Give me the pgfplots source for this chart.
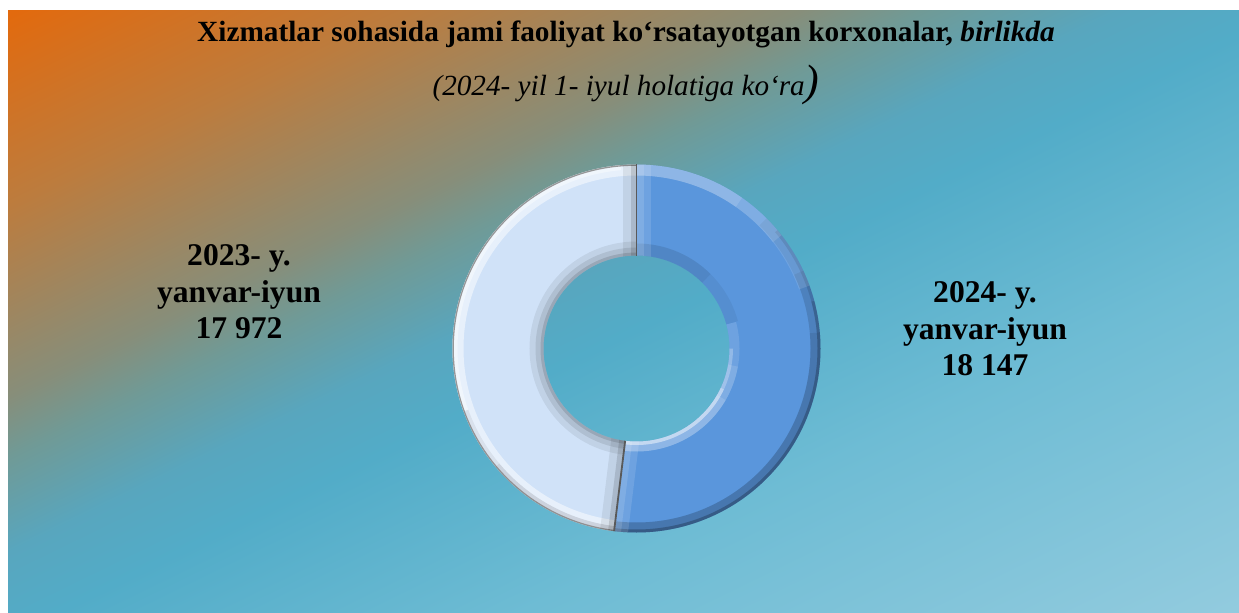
\documentclass[border=0pt]{standalone}
\usepackage{pgfplots}
\pgfplotsset{compat=1.18}
\usepackage{pgfplotstable}
\usepackage{fontspec}
\setmainfont{Liberation Serif}

\definecolor{bgA}{RGB}{226,106,14}
\definecolor{bgB}{RGB}{188,124,62}
\definecolor{bgC}{RGB}{135,142,122}
\definecolor{bgD}{RGB}{112,154,150}
\definecolor{bgE}{RGB}{88,166,190}
\definecolor{bgF}{RGB}{82,172,200}
\definecolor{bgG}{RGB}{110,188,212}
\definecolor{bgH}{RGB}{146,203,222}
\definecolor{sliceDark}{RGB}{90,150,220}
\definecolor{sliceLight}{RGB}{208,226,248}

\pgfdeclarehorizontalshading{bgshade}{100bp}{color(0bp)=(bgA); color(28.23bp)=(bgA); color(35.2bp)=(bgB); color(42.17bp)=(bgC); color(44.34bp)=(bgD); color(47.83bp)=(bgE); color(50.88bp)=(bgF); color(59.15bp)=(bgG); color(71.77bp)=(bgH); color(100bp)=(bgH)}

% value: number of enterprises; angle: slice angle as drawn (degrees)
\pgfplotstableread{
period value angle
2024 18147 187
2023 17972 173
}\donutdata
\pgfplotstablegetelem{0}{angle}\of\donutdata \edef\angA{\pgfplotsretval}
\pgfmathsetmacro{\endA}{90-\angA}
\pgfmathsetmacro{\endL}{\endA+360}

\begin{document}
\begin{tikzpicture}
\begin{axis}[at={(0,0)},anchor=south west,x=0.5pt,y=0.5pt,
  xmin=0,xmax=1239,ymin=0,ymax=612,hide axis,clip=false]
\begin{scope}
\clip (axis cs:8,0) rectangle (axis cs:1239,601);
\shade[shading=bgshade,shading angle=-64] (axis cs:3.5,-319.5) rectangle (axis cs:1243.5,920.5);
\end{scope}
\coordinate (c) at (axis cs:636.5,263.5);
% light slice (2023)
\begin{scope}
\clip ([shift={(90:92pt)}]c) arc[start angle=90,end angle=\endL,radius=92pt]
  -- ([shift={(\endL:46.5pt)}]c) arc[start angle=\endL,end angle=90,radius=46.5pt] -- cycle;
\fill[sliceLight] (c) circle[radius=95pt];
\draw[black,opacity=0.07,line width=14pt] (c) circle[radius=46.5pt];
\draw[black,opacity=0.09,line width=8pt] (c) circle[radius=46.5pt];
\draw[black,opacity=0.12,line width=3pt] (c) circle[radius=46.5pt];
\draw[white,opacity=0.5,line width=11pt] (c) circle[radius=92pt];
\draw[white,opacity=0.4,line width=5pt] ([shift={(95:92pt)}]c) arc[start angle=95,end angle=200,radius=92pt];
\draw[black,opacity=0.06,line width=5pt] ([shift={(200:92pt)}]c) arc[start angle=200,end angle=265,radius=92pt];
\draw[black,opacity=0.06,line width=5pt] ([shift={(220:92pt)}]c) arc[start angle=220,end angle=265,radius=92pt];
\draw[gray,opacity=0.8,line width=1.3pt] (c) circle[radius=92pt];
\draw[black,opacity=0.07,line width=14pt] ([shift={(90:40pt)}]c) -- ([shift={(90:100pt)}]c);
\draw[black,opacity=0.12,line width=6pt] ([shift={(90:40pt)}]c) -- ([shift={(90:100pt)}]c);
\draw[black,opacity=0.07,line width=14pt] ([shift={(\endA:40pt)}]c) -- ([shift={(\endA:100pt)}]c);
\draw[black,opacity=0.12,line width=6pt] ([shift={(\endA:40pt)}]c) -- ([shift={(\endA:100pt)}]c);
\end{scope}
% dark slice (2024)
\begin{scope}
\clip ([shift={(90:92pt)}]c) arc[start angle=90,end angle=\endA,radius=92pt]
  -- ([shift={(\endA:46.5pt)}]c) arc[start angle=\endA,end angle=90,radius=46.5pt] -- cycle;
\fill[sliceDark] (c) circle[radius=95pt];
% outer shadow (right / bottom)
\draw[black,opacity=0.07,line width=10pt] ([shift={(45:92pt)}]c) arc[start angle=45,end angle=-100,radius=92pt];
\draw[black,opacity=0.07,line width=10pt] ([shift={(25:92pt)}]c) arc[start angle=25,end angle=-100,radius=92pt];
\draw[black,opacity=0.07,line width=10pt] ([shift={(5:92pt)}]c) arc[start angle=5,end angle=-100,radius=92pt];
\draw[black,opacity=0.12,line width=3pt] ([shift={(40:92pt)}]c) arc[start angle=40,end angle=-100,radius=92pt];
\draw[black,opacity=0.12,line width=3pt] ([shift={(15:92pt)}]c) arc[start angle=15,end angle=-100,radius=92pt];
% outer highlight (top)
\draw[white,opacity=0.12,line width=11pt] ([shift={(95:92pt)}]c) arc[start angle=95,end angle=20,radius=92pt];
\draw[white,opacity=0.12,line width=11pt] ([shift={(95:92pt)}]c) arc[start angle=95,end angle=38,radius=92pt];
\draw[white,opacity=0.12,line width=11pt] ([shift={(95:92pt)}]c) arc[start angle=95,end angle=55,radius=92pt];
% inner shadow (top right)
\draw[black,opacity=0.05,line width=12pt] ([shift={(95:46.5pt)}]c) arc[start angle=95,end angle=15,radius=46.5pt];
\draw[black,opacity=0.05,line width=12pt] ([shift={(95:46.5pt)}]c) arc[start angle=95,end angle=45,radius=46.5pt];
% inner highlight (bottom)
\draw[white,opacity=0.12,line width=10pt] ([shift={(15:46.5pt)}]c) arc[start angle=15,end angle=-100,radius=46.5pt];
\draw[white,opacity=0.12,line width=10pt] ([shift={(-10:46.5pt)}]c) arc[start angle=-10,end angle=-100,radius=46.5pt];
\draw[white,opacity=0.12,line width=10pt] ([shift={(-30:46.5pt)}]c) arc[start angle=-30,end angle=-100,radius=46.5pt];
\draw[white,opacity=0.25,line width=3.5pt] ([shift={(0:46.5pt)}]c) arc[start angle=0,end angle=-100,radius=46.5pt];
\draw[white,opacity=0.3,line width=3.5pt] ([shift={(-25:46.5pt)}]c) arc[start angle=-25,end angle=-100,radius=46.5pt];
% radial edges
\draw[white,opacity=0.12,line width=14pt] ([shift={(90:40pt)}]c) -- ([shift={(90:100pt)}]c);
\draw[white,opacity=0.12,line width=7pt] ([shift={(90:40pt)}]c) -- ([shift={(90:100pt)}]c);
\draw[white,opacity=0.12,line width=14pt] ([shift={(\endA:40pt)}]c) -- ([shift={(\endA:100pt)}]c);
\draw[white,opacity=0.12,line width=7pt] ([shift={(\endA:40pt)}]c) -- ([shift={(\endA:100pt)}]c);
\end{scope}
\draw[gray!70!black,line width=0.9pt] ([shift={(90:46.5pt)}]c) -- ([shift={(90:92pt)}]c);
\draw[gray!70!black,line width=0.9pt] ([shift={(\endA:46.5pt)}]c) -- ([shift={(\endA:92pt)}]c);
% texts
\node[anchor=base,font=\fontsize{14.65}{18}\selectfont\bfseries] at (axis cs:626,570)
  {Xizmatlar sohasida jami faoliyat ko‘rsatayotgan korxonalar, \textit{birlikda}};
\node[anchor=base,font=\fontsize{14.6}{18}\selectfont\itshape] at (axis cs:626,516)
  {(2024- yil 1- iyul holatiga ko‘ra{\fontsize{22}{24}\selectfont)}};
\node[anchor=base,font=\fontsize{15.8}{18}\selectfont\bfseries] at (axis cs:239,346) {2023- y.};
\node[anchor=base,font=\fontsize{15.8}{18}\selectfont\bfseries] at (axis cs:239,310) {yanvar-iyun};
\node[anchor=base,font=\fontsize{15.8}{18}\selectfont\bfseries] at (axis cs:239,274) {17 972};
\node[anchor=base,font=\fontsize{15.8}{18}\selectfont\bfseries] at (axis cs:985,309) {2024- y.};
\node[anchor=base,font=\fontsize{15.8}{18}\selectfont\bfseries] at (axis cs:985,272) {yanvar-iyun};
\node[anchor=base,font=\fontsize{15.8}{18}\selectfont\bfseries] at (axis cs:985,237) {18 147};
\end{axis}
\path (0,0) rectangle (619.5pt,306pt);
\end{tikzpicture}
\end{document}
